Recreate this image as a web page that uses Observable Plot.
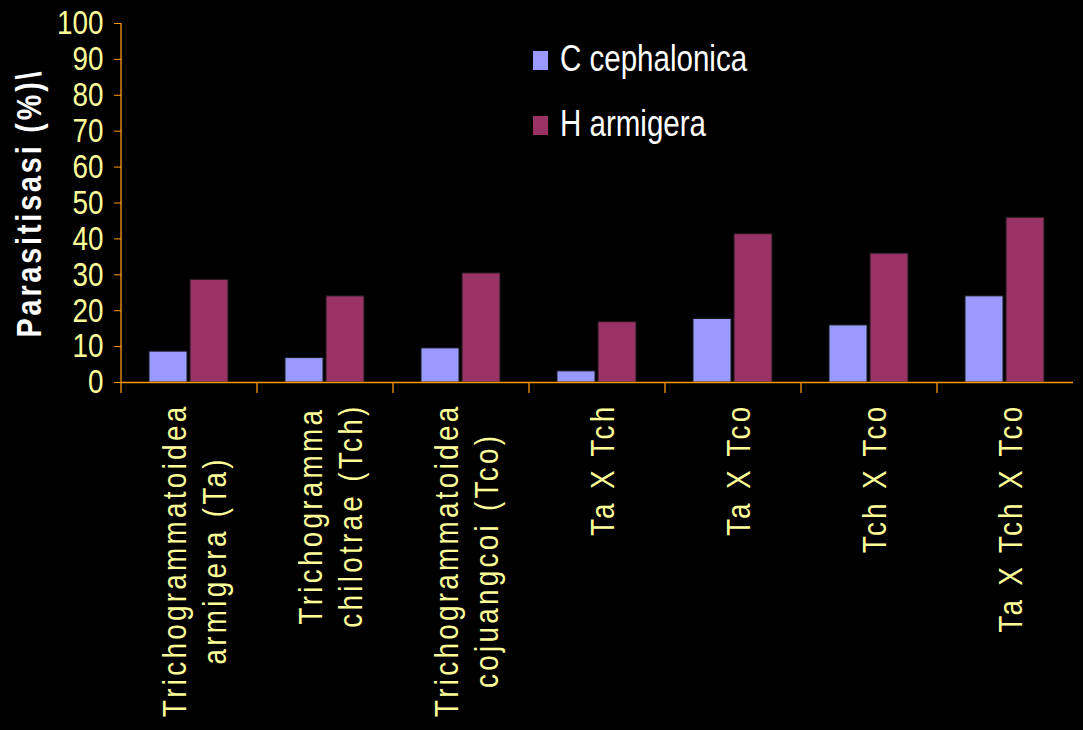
<!DOCTYPE html>
<html>
<head>
<meta charset="utf-8">
<script src="https://cdn.jsdelivr.net/npm/d3@7"></script>
<script src="https://cdn.jsdelivr.net/npm/@observablehq/plot@0.6"></script>
<style>
  html, body { margin: 0; padding: 0; background: #000; }
  #wrap { position: relative; width: 1083px; height: 730px; overflow: hidden; background: #000; }
  #wrap svg g[aria-label="text"] text, #wrap svg g[aria-label="y-axis tick label"] text, #legend {
    font-family: "Liberation Sans", Arial, sans-serif;
  }
  #wrap svg g[aria-label="y-axis tick label"] text { font-size: 34px; fill: #FFFF99; }
  #wrap svg g[aria-label="text"] text { font-size: 34px; fill: #FFFF99; letter-spacing: 4px; }
  #wrap svg g[aria-label="y-axis label"] text {
    font-family: "Liberation Sans", Arial, sans-serif;
    font-size: 35px; font-weight: bold; fill: #FFFFFF; letter-spacing: 3.5px;
  }
  #legend { position: absolute; left: 533px; top: 28px; color: #fff; }
  #legend .row { position: relative; height: 65px; width: 300px; }
  #legend .sw { position: absolute; left: 0; top: 23px; width: 15px; height: 19px; }
  #legend .lab { position: absolute; left: 27px; top: 13px; font-size: 36px; line-height: 36px;
    white-space: nowrap; transform: scaleX(0.82); transform-origin: 0 0; }
</style>
</head>
<body>
<div id="wrap"></div>
<script>
// ---- data ----
const categories = [
  "Trichogrammatoidea\narmigera (Ta)",
  "Trichogramma\nchilotrae (Tch)",
  "Trichogrammatoidea\ncojuangcoi (Tco)",
  "Ta X Tch",
  "Ta X Tco",
  "Tch X Tco",
  "Ta X Tch X Tco"
];
const seriesNames = ["C cephalonica", "H armigera"];
const cCephalonica = [8.6, 6.8, 9.5, 3.1, 17.7, 15.9, 24.0];
const hArmigera = [28.6, 24.0, 30.4, 16.8, 41.3, 35.9, 45.9];
const seriesColors = ["#9999FF", "#993366"];
const yTicks = [0, 10, 20, 30, 40, 50, 60, 70, 80, 90, 100];
const yLabel = "Parasitisasi (%)\\";

const AXIS = "#FF9900";
const LABEL = "#FFFF99";
const NARROW = 0.82; // Arial-Narrow-like condensing of Liberation Sans

const rows = categories.flatMap((c, i) => [
  {category: c, series: seriesNames[0], value: cCephalonica[i]},
  {category: c, series: seriesNames[1], value: hArmigera[i]}
]);

const plot = Plot.plot({
  width: 1083,
  height: 730,
  marginLeft: 119,
  marginRight: 8,
  marginTop: 23,
  marginBottom: 348,
  style: {background: "#000", color: LABEL, overflow: "visible"},
  fx: {domain: categories, padding: 0, axis: null},
  x: {domain: seriesNames, paddingInner: 0.067, paddingOuter: 0.675, axis: null},
  y: {domain: [0, 100], axis: null},
  color: {domain: seriesNames, range: seriesColors},
  marks: [
    Plot.barY(rows, {fx: "category", x: "series", y: "value", fill: "series", stroke: "#1a1a1a", strokeWidth: 1}),
    Plot.ruleY([0], {stroke: AXIS, strokeWidth: 1.3}),
    Plot.axisY({
      ticks: yTicks, tickSize: 7, tickPadding: 11,
      stroke: AXIS, fill: LABEL,
      label: yLabel, labelAnchor: "center", labelOffset: 105, labelArrow: "none"
    }),
    Plot.text(categories, {
      fx: d => d, text: d => d, frameAnchor: "bottom", lineAnchor: "middle",
      rotate: -90, textAnchor: "end", dx: 4, dy: 21, lineHeight: 1.18, fill: LABEL
    })
  ]
});

document.getElementById("wrap").appendChild(plot);
const svg = d3.select(plot);

// condense text along its own direction (no narrow font installed)
function condense(el, k) {
  const x = parseFloat(el.getAttribute("x")) || 0;
  const t = el.getAttribute("transform") || "";
  el.setAttribute("transform", `${t} translate(${x},0) scale(${k},1) translate(${-x},0)`);
}

// y-axis title: plain text, no arrow
svg.selectAll('g[aria-label="y-axis label"] text').text(yLabel).each(function () { condense(this, NARROW); });
svg.selectAll('g[aria-label="y-axis tick label"] text').each(function () { condense(this, NARROW); });

// center the lines of multi-line category labels against each other
svg.selectAll('g[aria-label="text"] text').each(function () {
  const tspans = Array.from(this.querySelectorAll("tspan"));
  if (tspans.length > 1) {
    const L = d3.max(tspans, t => t.getComputedTextLength());
    this.setAttribute("text-anchor", "middle");
    tspans.forEach(t => t.setAttribute("x", -L / 2));
  }
  condense(this, NARROW);
});

// axis line and category boundary ticks, placed with Plot's own scales
const fx = plot.scale("fx");
const y = plot.scale("y");
const y0 = y.apply(0), y100 = y.apply(100);
const xStart = fx.apply(categories[0]);
const g = svg.append("g").attr("stroke", AXIS).attr("stroke-width", 1.3);
g.append("line").attr("x1", xStart).attr("x2", xStart).attr("y1", y100).attr("y2", y0);
for (const c of categories) {
  const xb = fx.apply(c);
  g.append("line").attr("x1", xb).attr("x2", xb).attr("y1", y0).attr("y2", y0 + 11);
}

// legend
const legend = d3.select("#wrap").append("div").attr("id", "legend");
seriesNames.forEach((s, i) => {
  const row = legend.append("div").attr("class", "row");
  row.append("div").attr("class", "sw").style("background", seriesColors[i]);
  row.append("div").attr("class", "lab").text(s);
});
</script>
</body>
</html>
